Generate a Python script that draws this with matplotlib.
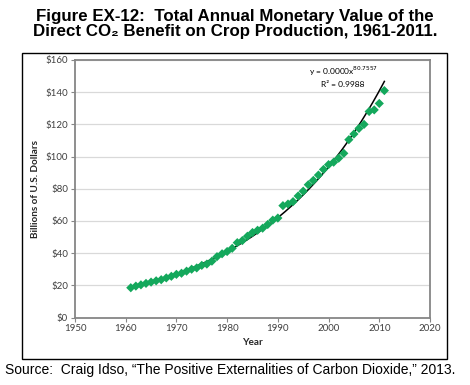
#!/usr/bin/env python3
"""Figure EX-12: annual monetary value of the direct CO2 benefit on crops."""

import matplotlib
matplotlib.use("Agg")
import matplotlib.pyplot as plt
import numpy as np
from matplotlib.patches import Rectangle

plt.rcParams["font.family"] = ["Liberation Sans", "DejaVu Sans"]

YEARS = list(range(1961, 2012))
VALUE = [
    18.5, 19.5, 20.3, 21.2, 22.0, 22.8, 23.5, 24.6, 25.6, 26.8,
    27.5, 28.8, 30.0, 30.8, 32.4, 33.2, 35.0, 37.8, 39.6, 41.0,
    43.0, 46.5, 47.8, 50.5, 52.8, 54.2, 55.5, 57.8, 60.5, 61.8,
    69.5, 70.5, 72.0, 75.5, 78.5, 82.5, 85.2, 88.5, 92.0, 95.0,
    96.5, 99.0, 102.0, 110.5, 114.0, 117.5, 120.0, 128.0, 129.0, 133.0,
    141.0,
]
X_TICKS = [1950, 1960, 1970, 1980, 1990, 2000, 2010, 2020]
Y_TICKS = [0, 20, 40, 60, 80, 100, 120, 140, 160]

TITLE = "Figure EX-12:  Total Annual Monetary Value of the\nDirect CO\u2082 Benefit on Crop Production, 1961-2011."
SOURCE = "Source:  Craig Idso, \u201cThe Positive Externalities of Carbon Dioxide,\u201d 2013."
GREEN = "#14A85C"
TICK_FONT = ["Lato", "DejaVu Sans"]

fig = plt.figure(figsize=(4.70, 3.85), dpi=100, facecolor="white")

# outer frame around the chart
fig.patches.append(Rectangle((22 / 470, 1 - 359 / 385), 425 / 470, 306 / 385,
                             transform=fig.transFigure, fill=False,
                             edgecolor="black", linewidth=1.0))

ax = fig.add_axes([75 / 470, 1 - 317.5 / 385, 355 / 470, 257.5 / 385])

x = np.asarray(YEARS, dtype=float)
y = np.asarray(VALUE, dtype=float)
# power trendline  y = a * x^b, fitted in log space like Excel does
b, log_a = np.polyfit(np.log(x), np.log(y), 1)
xf = np.linspace(x.min(), x.max(), 200)
ax.plot(xf, np.exp(log_a) * xf ** b, color="black", linewidth=1.1, zorder=2)
ax.scatter(x, y, marker="D", s=22, color=GREEN, edgecolors="none", zorder=3)

ax.set_xlim(1950, 2020)
ax.set_ylim(0, 160)
ax.set_xticks(X_TICKS)
ax.set_yticks(Y_TICKS)
ax.set_yticklabels([f"${v}" for v in Y_TICKS], family=TICK_FONT)
ax.set_xticklabels([str(v) for v in X_TICKS], family=TICK_FONT)
ax.tick_params(labelsize=7, colors="#404040", length=3, width=0.8,
               color="#868686", pad=2)
ax.grid(axis="y", color="#D9D9D9", linewidth=0.9)
ax.set_axisbelow(True)
for spine in ax.spines.values():
    spine.set_color("#868686")
    spine.set_linewidth(1.3)

ax.set_xlabel("Year", fontsize=7.2, weight="bold", color="#262626",
              family=TICK_FONT, labelpad=3)
ax.set_ylabel("Billions of U.S. Dollars", fontsize=7.2, weight="bold",
              color="#262626", family=TICK_FONT, labelpad=4)

ax.text(0.755, 0.955, "y = 0.0000x$^{80.7557}$", transform=ax.transAxes,
        fontsize=6, ha="center", va="center", family=TICK_FONT)
ax.text(0.755, 0.905, "R\u00b2 = 0.9988", transform=ax.transAxes,
        fontsize=6, ha="center", va="center", family=TICK_FONT)

fig.text(0.5, 1 - 24 / 385, TITLE, ha="center", va="center", fontsize=12.2,
         weight="bold", linespacing=1.05)
fig.text(5 / 470, 1 - 370 / 385, SOURCE, ha="left", va="center", fontsize=10)

fig.savefig("out.png", dpi=100, facecolor="white")
